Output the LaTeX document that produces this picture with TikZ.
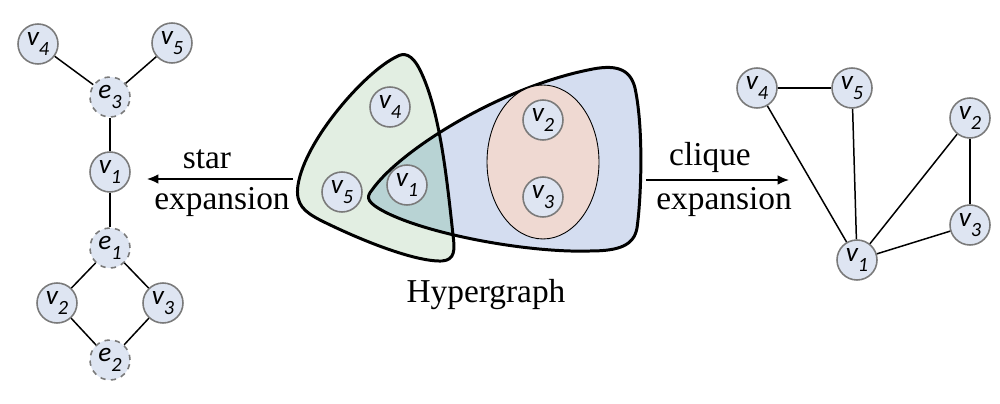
\documentclass[tikz,border=0pt]{standalone}
\usepackage{fontspec}
\setmainfont{Liberation Serif}
\newfontfamily\labelfont{Carlito}
\usepackage{tikz}
\usetikzlibrary{arrows.meta,positioning}
\definecolor{nodefill}{HTML}{DEE5F2}
\definecolor{nodeline}{HTML}{7A7A7A}
\definecolor{edgegreen}{HTML}{E2EEE2}
\definecolor{edgeblue}{HTML}{D4DDF0}
\definecolor{edgeteal}{HTML}{B8D3D4}
\definecolor{edgepink}{HTML}{EFD9D2}

% vertex label: italic v with a low subscript
\newcommand{\vlab}[2]{\itshape #1\raisebox{-6pt}{\fontsize{11.5}{11.5}\selectfont #2}}
% outlines of the two hyperedges (pixel units)
\newcommand{\greenedge}{(396,57) .. controls (365,72) and (305,140) .. (298,185)
  .. controls (295,205) and (305,212) .. (320,220)
  .. controls (360,240) and (415,262) .. (442,261)
  .. controls (455,260) and (455,250) .. (453,235)
  .. controls (447,180) and (440,110) .. (420,70)
  .. controls (412,54) and (404,52) .. cycle}
\newcommand{\blueedge}{(372,190) .. controls (400,150) and (500,88) .. (588,70)
  .. controls (615,64) and (630,68) .. (635,88)
  .. controls (644,130) and (641,200) .. (637,228)
  .. controls (634,245) and (620,251) .. (590,251)
  .. controls (530,253) and (430,235) .. (385,212)
  .. controls (368,203) and (365,198) .. cycle}

\begin{document}
\begin{tikzpicture}[x=0.02cm,y=-0.02cm,
    every node/.style={font=\fontsize{19}{21}\selectfont},
    vnode/.style={circle,draw=nodeline,fill=nodefill,line width=0.9pt,
                  minimum size=0.8cm,inner sep=0pt,
                  font=\labelfont\fontsize{15.5}{15.5}\selectfont},
    enode/.style={vnode,dashed},
    link/.style={line width=0.85pt},
    hyperline/.style={line width=1.7pt,line join=round},
    expand/.style={line width=0.85pt,-{Latex[length=6.5pt,width=5.5pt]}},
  ]
  \useasboundingbox (0,0) rectangle (1000,404);

  % star expansion
  \node[vnode] (sv4) at (38,44) {\vlab{v}{4}};
  \node[vnode] (sv5) at (172,43) {\vlab{v}{5}};
  \node[enode] (se3) at (110,97) {\vlab{e}{3}};
  \node[vnode] (sv1) at (110,172) {\vlab{v}{1}};
  \node[enode] (se1) at (110,248) {\vlab{e}{1}};
  \node[vnode] (sv2) at (57,303) {\vlab{v}{2}};
  \node[vnode] (sv3) at (163,303) {\vlab{v}{3}};
  \node[enode] (se2) at (110,360) {\vlab{e}{2}};
  \draw[link] (sv4) -- (se3);
  \draw[link] (sv5) -- (se3);
  \draw[link] (se3) -- (sv1);
  \draw[link] (sv1) -- (se1);
  \draw[link] (se1) -- (sv2);
  \draw[link] (se1) -- (sv3);
  \draw[link] (sv2) -- (se2);
  \draw[link] (sv3) -- (se2);

  \coordinate (starfrom) at (293,179);
  \coordinate (starto) at (147,179);
  \draw[expand] (starfrom) -- (starto);
  \node[anchor=base] (starlab) at (207,169) {star};
  \node[anchor=base] (starlab2) at (222,210) {expansion};

  % hypergraph
  \fill[edgegreen] \greenedge;
  \fill[edgeblue] \blueedge;
  \begin{scope}
    \clip \greenedge;
    \fill[edgeteal] \blueedge;
  \end{scope}
  \draw[hyperline] \greenedge;
  \draw[hyperline] \blueedge;
  \draw[fill=edgepink,line width=0.5pt] (543,162) ellipse [x radius=1.12cm,y radius=1.54cm];
  \node[vnode] (hv4) at (390,107) {\vlab{v}{4}};
  \node[vnode] (hv5) at (342,192) {\vlab{v}{5}};
  \node[vnode] (hv1) at (407,185) {\vlab{v}{1}};
  \node[vnode] (hv2) at (543,120) {\vlab{v}{2}};
  \node[vnode] (hv3) at (543,197) {\vlab{v}{3}};
  \node[anchor=base] (hyperlab) at (486,303) {Hypergraph};

  % clique expansion
  \coordinate (cliquefrom) at (646,180);
  \coordinate (cliqueto) at (789,180);
  \draw[expand] (cliquefrom) -- (cliqueto);
  \node[anchor=base] (cliquelab) at (710,166) {clique};
  \node[anchor=base] (cliquelab2) at (724,210) {expansion};

  \node[vnode] (cv4) at (757,88) {\vlab{v}{4}};
  \node[vnode] (cv5) at (852,88) {\vlab{v}{5}};
  \node[vnode] (cv2) at (970,118) {\vlab{v}{2}};
  \node[vnode] (cv3) at (970,225) {\vlab{v}{3}};
  \node[vnode] (cv1) at (857,260) {\vlab{v}{1}};
  \draw[link] (cv4) -- (cv5);
  \draw[link] (cv4) -- (cv1);
  \draw[link] (cv5) -- (cv1);
  \draw[link] (cv1) -- (cv2);
  \draw[link] (cv1) -- (cv3);
  \draw[link] (cv2) -- (cv3);
\end{tikzpicture}
\end{document}
